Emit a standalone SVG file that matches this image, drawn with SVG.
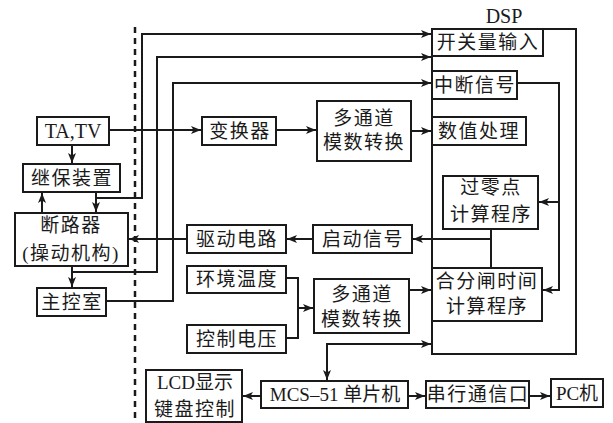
<svg xmlns="http://www.w3.org/2000/svg" width="613" height="423" viewBox="0 0 613 423">
<style>
.b{fill:#fff;stroke:#1a1a1a;stroke-width:2}
.o{fill:none;stroke:#1a1a1a;stroke-width:2}
.c{fill:none;stroke:#1a1a1a;stroke-width:2}
.a{marker-end:url(#ar)}
text{font-family:"Liberation Serif","Noto Sans CJK SC",serif;font-size:19px;fill:#1a1a1a;text-anchor:middle;letter-spacing:1.5px}
.l{font-size:20px;letter-spacing:0}
</style>
<defs>
<marker id="ar" markerUnits="userSpaceOnUse" markerWidth="11" markerHeight="9" refX="10" refY="4" orient="auto">
<path d="M0,0 L10,4 L0,8 L2.5,4 z" fill="#1a1a1a"/>
</marker>
</defs>
<rect x="0" y="0" width="613" height="423" fill="#fff"/>
<g id="dsp">
<rect class="o" x="432" y="29" width="144" height="325"/>
<text class="l" x="504" y="23">DSP</text>
</g>
<line x1="135" y1="27" x2="135" y2="423" stroke="#1a1a1a" stroke-width="2.5" stroke-dasharray="6,5"/>
<g id="connectors">
<path class="c a" d="M109,130 H201"/>
<path class="c a" d="M276,130 H316"/>
<path class="c a" d="M411,131 H431"/>
<path class="c a" d="M72,145 V163"/>
<path class="c a" d="M42,213 V193"/>
<path class="c a" d="M96,192 V212"/>
<path class="c a" d="M96,198 H142 V34 H431"/>
<path class="c a" d="M72,266 V287"/>
<path class="c a" d="M72,272 H157 V57 H431"/>
<path class="c a" d="M106,301 H173 V83 H431"/>
<path class="c a" d="M517,83 H559 V290 H543"/>
<path class="c a" d="M559,202 H539"/>
<path class="c" d="M491,229 V268"/>
<path class="c a" d="M491,239 H413"/>
<path class="c a" d="M313,239 H287"/>
<path class="c a" d="M187,239 H129"/>
<path class="c" d="M286,278 H298 V338 H286"/>
<path class="c a" d="M298,308 H313"/>
<path class="c a" d="M409,290 H431"/>
<path class="c a" d="M327,344 H431"/>
<path class="c a" d="M327,343 V380"/>
<path class="c a" d="M261,396 H243"/>
<path class="c a" d="M408,396 H425"/>
<path class="c a" d="M529,396 H550"/>
</g>
<g id="tatv"><rect class="b" x="37" y="117" width="72" height="28"/><text class="l" x="73" y="138">TA,TV</text></g>
<g id="jibao"><rect class="b" x="23" y="164" width="97" height="28"/><text x="72" y="185">继保装置</text></g>
<g id="duanluqi"><rect class="b" x="15" y="213" width="113" height="53"/><text x="71" y="232">断路器</text><text x="71" y="260">(操动机构)</text></g>
<g id="zhukong"><rect class="b" x="37" y="288" width="69" height="28"/><text x="72" y="309">主控室</text></g>
<g id="bianhuan"><rect class="b" x="202" y="117" width="74" height="28"/><text x="240" y="138">变换器</text></g>
<g id="adc1"><rect class="b" x="317" y="101" width="94" height="60"/><text x="364" y="125">多通道</text><text x="364" y="149">模数转换</text></g>
<g id="kaiguan"><rect class="b" x="432" y="29" width="111" height="27"/><text x="488" y="49">开关量输入</text></g>
<g id="zhongduan"><rect class="b" x="432" y="71" width="85" height="28"/><text x="475" y="92">中断信号</text></g>
<g id="shuzhi"><rect class="b" x="432" y="117" width="94" height="28"/><text x="479" y="138">数值处理</text></g>
<g id="guoling"><rect class="b" x="443" y="176" width="95" height="53"/><text x="491" y="194">过零点</text><text x="491" y="221">计算程序</text></g>
<g id="hefen"><rect class="b" x="432" y="268" width="110" height="53"/><text x="487" y="288">合分闸时间</text><text x="487" y="313">计算程序</text></g>
<g id="qidong"><rect class="b" x="313" y="225" width="99" height="28"/><text x="363" y="246">启动信号</text></g>
<g id="qudong"><rect class="b" x="187" y="225" width="99" height="28"/><text x="237" y="246">驱动电路</text></g>
<g id="wendu"><rect class="b" x="187" y="266" width="99" height="27"/><text x="237" y="286">环境温度</text></g>
<g id="dianya"><rect class="b" x="187" y="325" width="99" height="28"/><text x="237" y="346">控制电压</text></g>
<g id="adc2"><rect class="b" x="314" y="279" width="95" height="54"/><text x="362" y="301">多通道</text><text x="362" y="326">模数转换</text></g>
<g id="lcd"><rect class="b" x="146" y="370" width="96" height="52"/><text x="195" y="389" style="letter-spacing:0">LCD显示</text><text x="195" y="416">键盘控制</text></g>
<g id="mcs"><rect class="b" x="261" y="381" width="147" height="27"/><text x="335" y="401" style="letter-spacing:0">MCS–51 单片机</text></g>
<g id="chuanxing"><rect class="b" x="426" y="381" width="103" height="27"/><text x="478" y="401">串行通信口</text></g>
<g id="pc"><rect class="b" x="551" y="379" width="52" height="28"/><text x="577" y="400" style="letter-spacing:0">PC机</text></g>
</svg>
